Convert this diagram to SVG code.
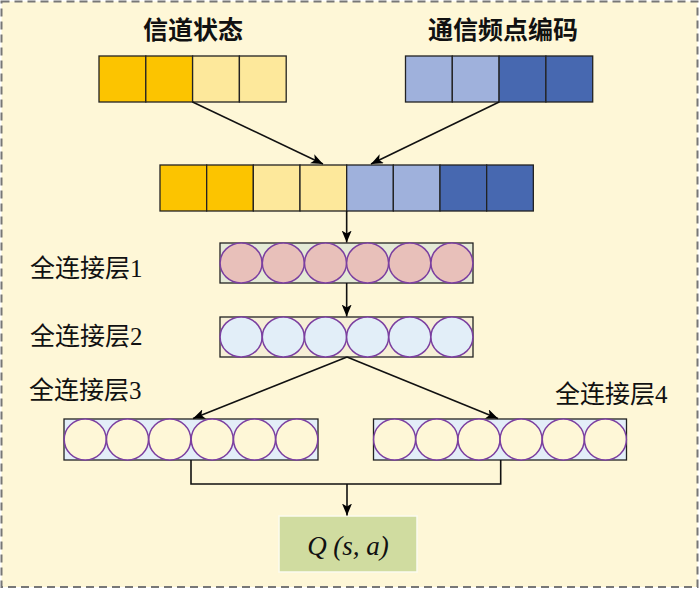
<svg xmlns="http://www.w3.org/2000/svg" width="700" height="589" viewBox="0 0 700 589">
<defs>
<marker id="arr" markerUnits="userSpaceOnUse" markerWidth="12" markerHeight="10" refX="12" refY="5" orient="auto">
<path d="M0,0 L12,5 L0,10 L3,5 z" fill="#000"/>
</marker>
<style>
.cell{stroke:#222;stroke-width:1.3}
.dy{fill:#fcc400}
.ly{fill:#fde89b}
.lb{fill:#9fb1dc}
.db{fill:#4768b0}
.title{font-family:"Noto Sans CJK SC",sans-serif;font-size:25px;font-weight:bold;fill:#111;text-anchor:middle}
.lbl{font-family:"Liberation Serif","Noto Sans CJK SC",serif;font-size:25px;fill:#111}
.frame{stroke:#222;stroke-width:1.3}
.neu{stroke:#7b3fa0;stroke-width:1.5}
.conn{fill:none;stroke:#111;stroke-width:1.6}
</style>
</defs>
<rect x="1.5" y="1.5" width="696" height="585.5" fill="#fef7d7" stroke="#777" stroke-width="2" stroke-dasharray="8,5"/>

<g id="channel-state">
<text class="title" x="193" y="39">信道状态</text>
<rect class="cell dy" x="99" y="56" width="46.8" height="46"/>
<rect class="cell dy" x="145.8" y="56" width="46.8" height="46"/>
<rect class="cell ly" x="192.6" y="56" width="46.8" height="46"/>
<rect class="cell ly" x="239.4" y="56" width="46.8" height="46"/>
</g>

<g id="freq-code">
<text class="title" x="503" y="39">通信频点编码</text>
<rect class="cell lb" x="405.5" y="56" width="46.8" height="46"/>
<rect class="cell lb" x="452.3" y="56" width="46.8" height="46"/>
<rect class="cell db" x="499.1" y="56" width="46.8" height="46"/>
<rect class="cell db" x="545.9" y="56" width="46.8" height="46"/>
</g>

<g id="concat">
<rect class="cell dy" x="160" y="165" width="46.67" height="46"/>
<rect class="cell dy" x="206.67" y="165" width="46.67" height="46"/>
<rect class="cell ly" x="253.33" y="165" width="46.67" height="46"/>
<rect class="cell ly" x="300" y="165" width="46.67" height="46"/>
<rect class="cell lb" x="346.67" y="165" width="46.67" height="46"/>
<rect class="cell lb" x="393.33" y="165" width="46.67" height="46"/>
<rect class="cell db" x="440" y="165" width="46.67" height="46"/>
<rect class="cell db" x="486.67" y="165" width="46.67" height="46"/>
</g>

<g id="fc1">
<text class="lbl" x="30" y="277">全连接层1</text>
<rect class="frame" x="220" y="243" width="253" height="40" fill="#e4ead6"/>
<g class="neu" fill="#e8c0ba">
<ellipse cx="241.1" cy="263" rx="21" ry="20"/>
<ellipse cx="283.3" cy="263" rx="21" ry="20"/>
<ellipse cx="325.5" cy="263" rx="21" ry="20"/>
<ellipse cx="367.6" cy="263" rx="21" ry="20"/>
<ellipse cx="409.8" cy="263" rx="21" ry="20"/>
<ellipse cx="451.9" cy="263" rx="21" ry="20"/>
</g>
</g>

<g id="fc2">
<text class="lbl" x="30" y="345">全连接层2</text>
<rect class="frame" x="220" y="317" width="253" height="40" fill="#f6efd6"/>
<g class="neu" fill="#e2eef8">
<ellipse cx="241.1" cy="337" rx="21" ry="20"/>
<ellipse cx="283.3" cy="337" rx="21" ry="20"/>
<ellipse cx="325.5" cy="337" rx="21" ry="20"/>
<ellipse cx="367.6" cy="337" rx="21" ry="20"/>
<ellipse cx="409.8" cy="337" rx="21" ry="20"/>
<ellipse cx="451.9" cy="337" rx="21" ry="20"/>
</g>
</g>

<g id="fc3">
<text class="lbl" x="29" y="399">全连接层3</text>
<rect class="frame" x="64" y="419" width="254" height="41" fill="#e3eef8"/>
<g class="neu" fill="#fef7d7">
<ellipse cx="85.2" cy="439.5" rx="21" ry="20.5"/>
<ellipse cx="127.5" cy="439.5" rx="21" ry="20.5"/>
<ellipse cx="169.8" cy="439.5" rx="21" ry="20.5"/>
<ellipse cx="212.2" cy="439.5" rx="21" ry="20.5"/>
<ellipse cx="254.5" cy="439.5" rx="21" ry="20.5"/>
<ellipse cx="296.8" cy="439.5" rx="21" ry="20.5"/>
</g>
</g>

<g id="fc4">
<text class="lbl" x="555" y="403">全连接层4</text>
<rect class="frame" x="373.5" y="419" width="253" height="41" fill="#e3eef8"/>
<g class="neu" fill="#fef7d7">
<ellipse cx="394.6" cy="439.5" rx="21" ry="20.5"/>
<ellipse cx="436.8" cy="439.5" rx="21" ry="20.5"/>
<ellipse cx="479" cy="439.5" rx="21" ry="20.5"/>
<ellipse cx="521.1" cy="439.5" rx="21" ry="20.5"/>
<ellipse cx="563.3" cy="439.5" rx="21" ry="20.5"/>
<ellipse cx="605.4" cy="439.5" rx="21" ry="20.5"/>
</g>
</g>

<g id="q-output">
<rect x="279" y="516" width="138" height="56" fill="#d0dca0" stroke="#fbfbf0" stroke-width="1.5"/>
<text x="348" y="555" text-anchor="middle" font-family="Liberation Serif, serif" font-size="27" font-style="italic" fill="#111">Q (s, a)</text>
</g>

<g id="connectors">
<line class="conn" x1="192.6" y1="102" x2="323" y2="164" marker-end="url(#arr)"/>
<line class="conn" x1="499.1" y1="102" x2="371" y2="164" marker-end="url(#arr)"/>
<line class="conn" x1="346.67" y1="211" x2="346.67" y2="242.5" marker-end="url(#arr)"/>
<line class="conn" x1="346.67" y1="283" x2="346.67" y2="316.5" marker-end="url(#arr)"/>
<line class="conn" x1="347" y1="357" x2="193" y2="418.5" marker-end="url(#arr)"/>
<line class="conn" x1="347" y1="357" x2="498" y2="418.5" marker-end="url(#arr)"/>
<polyline class="conn" points="191,460 191,484 500.7,484 500.7,460"/>
<line class="conn" x1="347" y1="484" x2="347" y2="515.5" marker-end="url(#arr)"/>
</g>
</svg>
